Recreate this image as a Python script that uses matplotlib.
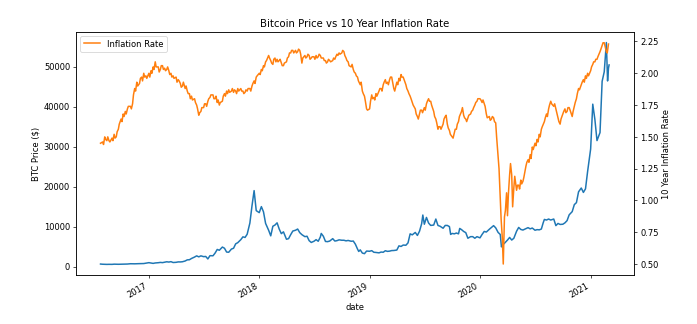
import matplotlib
matplotlib.use("Agg")
import matplotlib.pyplot as plt
import matplotlib.dates as mdates
import pandas as pd

# ---------------- BTC price: days 1, 8, 15, 22 of each month ----------------
btc_start = ("2016-07-25", 655)
btc_2016 = [  # Aug..Dec
    [607, 590, 570, 585],
    [575, 625, 607, 595],
    [615, 618, 640, 657],
    [730, 710, 712, 740],
    [755, 770, 780, 865],
]
btc_2017 = [
    [1000, 905, 820, 925],
    [985, 1060, 1010, 1120],
    [1220, 1150, 1250, 1040],
    [1085, 1190, 1180, 1230],
    [1420, 1700, 1730, 2050],
    [2400, 2700, 2450, 2700],
    [2500, 2550, 1930, 2750],
    [2720, 3400, 4300, 4100],
    [4900, 4600, 3650, 3600],
    [4400, 4600, 5700, 6000],
    [6750, 7450, 7300, 8100],
    [10900, 15200, 19000, 14000],
]
btc_2018 = [
    [13500, 15000, 13700, 10800],
    [9100, 7700, 10100, 10400],
    [10950, 9400, 8250, 8700],
    [6850, 7000, 8000, 8900],
    [9100, 9400, 8500, 8000],
    [7500, 7600, 6500, 6050],
    [6350, 6750, 6350, 7400],
    [7600, 6300, 6250, 6400],
    [7000, 6400, 6500, 6700],
    [6600, 6600, 6450, 6550],
    [6350, 6400, 5600, 4400],
    [4200, 3400, 3250, 3900],
]
btc_2019 = [
    [3850, 4000, 3600, 3550],
    [3450, 3650, 3600, 3980],
    [3820, 3880, 4020, 4040],
    [4150, 5200, 5050, 5400],
    [5350, 5950, 8200, 7950],
    [8550, 7800, 8850, 10700],
    [10600, 12300, 10900, 10300],
    [10400, 11900, 10300, 10100],
    [9600, 10300, 10300, 10000],
    [8300, 8200, 8400, 8200],
    [9250, 8800, 8500, 7100],
    [7500, 7500, 7100, 7500],
]
btc_2020 = [
    [7200, 8050, 8800, 8650],
    [9350, 9800, 10250, 9700],
    [8550, 8050, 5400, 5850],
    [6650, 7300, 6650, 7100],
    [8850, 9800, 9300, 9150],
    [9500, 9750, 9450, 9650],
    [9100, 9250, 9200, 9400],
    [11800, 11650, 11900, 11650],
    [11900, 10250, 10800, 10550],
    [10600, 10950, 11500, 12950],
    [13750, 15500, 16000, 18700],
    [19650, 18550, 19450, 23800],
]
btc_2021 = [  # Jan..Feb
    [29400, 40600, 36800, 31500],
    [33500, 46300, 48700, 56000],
]
btc_end = ("2021-03-01", 49600)
btc_extra_dates = ["2018-07-25", "2018-11-26", "2019-06-26", "2019-09-26",
                   "2019-10-26", "2020-03-12", "2020-07-28", "2020-12-31",
                   "2021-02-26", "2021-03-03"]
btc_extra_values = [8300, 3800, 12900, 8050, 9550, 4950, 10950, 29000,
                    46400, 50400]

# ------- 10 year inflation rate: days 1, 4, 8, 11, 15, 18, 22, 25 of each month -------
infl_start = ("2016-07-25", 1.45)
infl_2016 = [  # Aug..Dec
    [1.46, 1.44, 1.50, 1.48, 1.47, 1.50, 1.47, 1.46],
    [1.49, 1.47, 1.52, 1.49, 1.50, 1.54, 1.56, 1.60],
    [1.64, 1.62, 1.68, 1.66, 1.70, 1.68, 1.72, 1.74],
    [1.74, 1.72, 1.76, 1.83, 1.88, 1.86, 1.93, 1.90],
    [1.92, 1.96, 1.97, 1.94, 2.00, 1.97, 1.98, 1.96],
]
infl_2017 = [
    [2.00, 1.97, 2.02, 2.00, 2.05, 2.03, 2.09, 2.05],
    [2.05, 2.01, 2.03, 2.06, 2.06, 2.03, 2.04, 2.02],
    [2.03, 2.05, 2.02, 1.99, 2.00, 1.97, 1.98, 1.96],
    [1.97, 1.93, 1.95, 1.94, 1.92, 1.89, 1.90, 1.93],
    [1.88, 1.90, 1.86, 1.84, 1.84, 1.80, 1.82, 1.79],
    [1.80, 1.77, 1.75, 1.72, 1.67, 1.69, 1.70, 1.73],
    [1.73, 1.76, 1.76, 1.74, 1.78, 1.80, 1.81, 1.83],
    [1.83, 1.80, 1.80, 1.82, 1.77, 1.79, 1.75, 1.77],
    [1.78, 1.82, 1.84, 1.82, 1.86, 1.84, 1.87, 1.85],
    [1.86, 1.88, 1.85, 1.87, 1.86, 1.84, 1.88, 1.86],
    [1.88, 1.86, 1.86, 1.84, 1.85, 1.87, 1.86, 1.88],
    [1.88, 1.86, 1.90, 1.92, 1.94, 1.92, 1.97, 1.98],
]
infl_2018 = [
    [2.00, 1.99, 2.03, 2.02, 2.06, 2.05, 2.09, 2.10],
    [2.14, 2.12, 2.10, 2.08, 2.07, 2.11, 2.12, 2.09],
    [2.11, 2.09, 2.10, 2.11, 2.08, 2.06, 2.06, 2.08],
    [2.09, 2.12, 2.13, 2.16, 2.16, 2.18, 2.18, 2.16],
    [2.18, 2.16, 2.17, 2.19, 2.18, 2.15, 2.08, 2.12],
    [2.14, 2.12, 2.13, 2.15, 2.14, 2.11, 2.12, 2.13],
    [2.13, 2.11, 2.14, 2.12, 2.13, 2.15, 2.14, 2.12],
    [2.12, 2.10, 2.10, 2.08, 2.09, 2.11, 2.10, 2.09],
    [2.10, 2.12, 2.11, 2.13, 2.15, 2.14, 2.16, 2.15],
    [2.16, 2.18, 2.17, 2.14, 2.12, 2.10, 2.09, 2.06],
    [2.05, 2.07, 2.03, 2.01, 2.00, 1.98, 1.97, 1.94],
    [1.91, 1.93, 1.86, 1.84, 1.82, 1.78, 1.72, 1.71],
]
infl_2019 = [
    [1.72, 1.78, 1.83, 1.80, 1.81, 1.79, 1.84, 1.82],
    [1.86, 1.88, 1.88, 1.86, 1.91, 1.93, 1.95, 1.92],
    [1.93, 1.91, 1.95, 1.97, 1.97, 1.93, 1.88, 1.86],
    [1.93, 1.91, 1.96, 1.94, 1.99, 1.97, 1.97, 1.95],
    [1.91, 1.88, 1.86, 1.84, 1.82, 1.80, 1.77, 1.75],
    [1.72, 1.68, 1.66, 1.64, 1.68, 1.71, 1.71, 1.69],
    [1.73, 1.71, 1.76, 1.78, 1.80, 1.78, 1.78, 1.75],
    [1.70, 1.66, 1.64, 1.61, 1.56, 1.58, 1.58, 1.56],
    [1.60, 1.64, 1.66, 1.67, 1.60, 1.57, 1.55, 1.52],
    [1.50, 1.49, 1.53, 1.56, 1.56, 1.60, 1.62, 1.66],
    [1.70, 1.73, 1.67, 1.65, 1.64, 1.62, 1.65, 1.67],
    [1.68, 1.70, 1.71, 1.73, 1.75, 1.77, 1.78, 1.80],
]
infl_2020 = [
    [1.80, 1.79, 1.77, 1.79, 1.76, 1.74, 1.68, 1.65],
    [1.66, 1.63, 1.64, 1.66, 1.65, 1.62, 1.61, 1.50],
    [1.35, 1.25, 1.02, 0.85, 0.70, 0.50, 0.87, 0.92],
    [0.88, 1.05, 1.20, 1.29, 1.20, 0.95, 1.10, 1.19],
    [1.08, 1.12, 1.12, 1.09, 1.16, 1.13, 1.15, 1.18],
    [1.27, 1.30, 1.32, 1.30, 1.36, 1.33, 1.42, 1.40],
    [1.45, 1.43, 1.48, 1.46, 1.52, 1.50, 1.56, 1.58],
    [1.62, 1.65, 1.68, 1.66, 1.72, 1.75, 1.78, 1.76],
    [1.74, 1.76, 1.72, 1.69, 1.65, 1.62, 1.60, 1.64],
    [1.68, 1.70, 1.72, 1.69, 1.70, 1.73, 1.73, 1.71],
    [1.66, 1.70, 1.74, 1.77, 1.80, 1.84, 1.88, 1.87],
    [1.91, 1.93, 1.95, 1.93, 1.98, 1.96, 2.00, 1.98],
]
infl_2021 = [  # Jan..Feb
    [2.02, 2.05, 2.07, 2.09, 2.09, 2.11, 2.11, 2.13],
    [2.17, 2.19, 2.22, 2.24, 2.24, 2.21, 2.17, 2.16],
]
infl_end = ("2021-03-01", 2.23)
infl_extra_dates = ["2020-03-29"]
infl_extra_values = [1.06]

BTC_DAYS = (0, 7, 14, 21)
INFL_DAYS = (0, 3, 7, 10, 14, 17, 21, 24)


def build_series(start, blocks, end, extra_dates, extra_values, days):
    dates, vals = [pd.Timestamp(start[0])], [start[1]]
    for first_month, rows in blocks:
        months = pd.date_range(first_month, periods=len(rows), freq="MS")
        for m, row in zip(months, rows):
            for d, v in zip(days, row):
                dates.append(m + pd.Timedelta(days=d))
                vals.append(v)
    dates.append(pd.Timestamp(end[0]))
    vals.append(end[1])
    dates += [pd.Timestamp(d) for d in extra_dates]
    vals += list(extra_values)
    return pd.Series(vals, index=pd.DatetimeIndex(dates)).sort_index()


btc = build_series(btc_start,
                   [("2016-08-01", btc_2016), ("2017-01-01", btc_2017),
                    ("2018-01-01", btc_2018), ("2019-01-01", btc_2019),
                    ("2020-01-01", btc_2020), ("2021-01-01", btc_2021)],
                   btc_end, btc_extra_dates, btc_extra_values, BTC_DAYS)
infl = build_series(infl_start,
                    [("2016-08-01", infl_2016), ("2017-01-01", infl_2017),
                     ("2018-01-01", infl_2018), ("2019-01-01", infl_2019),
                     ("2020-01-01", infl_2020), ("2021-01-01", infl_2021)],
                    infl_end, infl_extra_dates, infl_extra_values, INFL_DAYS)

# ---------------- figure ----------------
DPI = 60.5
fig = plt.figure(figsize=(697.2 / DPI, 324.2 / DPI), dpi=DPI)
ax = fig.add_axes([76 / 697, 1 - 275 / 324, (634 - 76) / 697, (275 - 32) / 324])

ax.plot(btc.index, btc.values, color="#1f77b4", lw=1.8)
ax.set_ylabel("BTC Price ($)")
ax.set_xlabel("date")
ax.set_ylim(-2075, 58675)
ax.set_xlim(pd.Timestamp("2016-05-05"), pd.Timestamp("2021-05-25"))
ax.xaxis.set_major_locator(mdates.YearLocator())
ax.xaxis.set_major_formatter(mdates.DateFormatter("%Y"))
for lab in ax.get_xticklabels():
    lab.set_rotation(30)
    lab.set_ha("right")

ax2 = ax.twinx()
ax2.plot(infl.index, infl.values, color="#ff7f0e", lw=1.8, label="Inflation Rate")
ax2.set_ylim(0.414, 2.326)
ax2.set_ylabel("10 Year Inflation Rate")
ax2.legend(loc="upper left")

ax.set_title("Bitcoin Price vs 10 Year Inflation Rate")

fig.savefig("out.png", dpi=DPI, facecolor="white")
